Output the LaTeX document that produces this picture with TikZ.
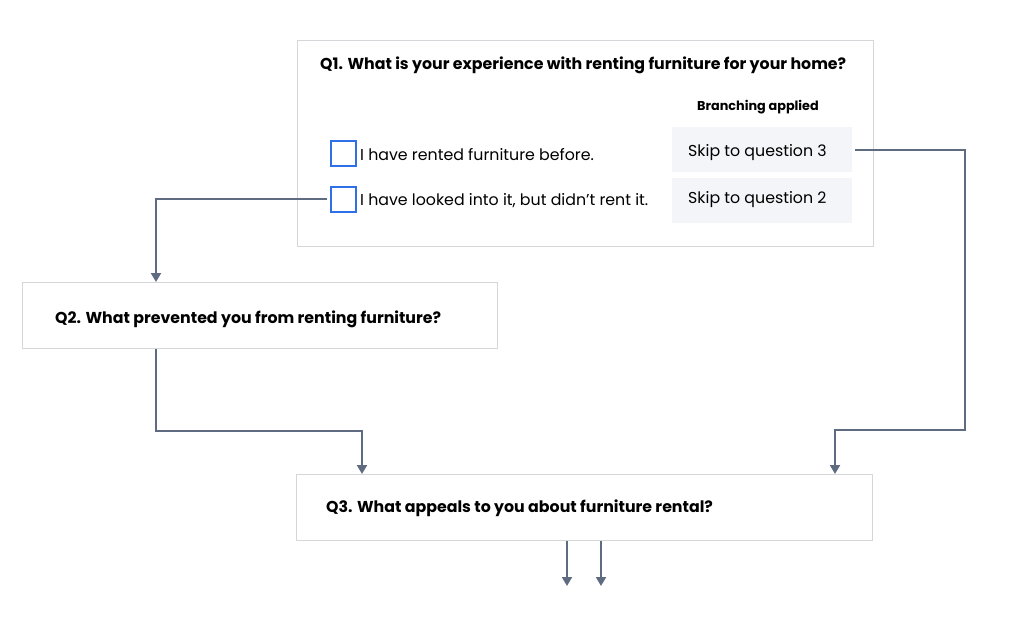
\documentclass[tikz,border=0pt]{standalone}
\usepackage{fontspec}
\setmainfont{Poppins}
\usetikzlibrary{arrows.meta}
\definecolor{linkgray}{HTML}{5F6B80}
\definecolor{boxline}{HTML}{D4D6DA}
\definecolor{checkblue}{HTML}{2F6FE8}
\definecolor{skipfill}{HTML}{F4F5F9}
\begin{document}
\begin{tikzpicture}[x=1pt,y=-1pt,
    qbox/.style={draw=boxline,line width=1pt,anchor=north west,inner sep=0pt},
    skipbox/.style={fill=skipfill,anchor=north west,inner sep=0pt,minimum width=180pt,minimum height=45pt},
    checkbox/.style={draw=checkblue,line width=1.6pt,anchor=north west,inner sep=0pt,minimum size=25pt},
    qtitle/.style={anchor=base west,inner sep=0pt,font=\fontsize{15.8}{18}\selectfont\bfseries},
    answer/.style={anchor=base west,inner sep=0pt,font=\fontsize{15.8}{18}\selectfont},
    link/.style={draw=linkgray,line width=2pt,-{Triangle[width=10pt,length=9pt]}}]
  \useasboundingbox (0,0) rectangle (1024,621);
  % question boxes
  \node [qbox,minimum width=576pt,minimum height=206pt] (q1) at (297,40) {};
  \node [qbox,minimum width=475pt,minimum height=66pt] (q2) at (22,282) {};
  \node [qbox,minimum width=576pt,minimum height=66pt] (q3) at (296,474) {};
  % question 1 contents
  \node [qtitle] (q1title) at (320,69) {Q1. What is your experience with renting furniture for your home?};
  \node [anchor=base west,inner sep=0pt,font=\fontsize{12.8}{15}\selectfont\bfseries] (branch) at (697,110) {Branching applied};
  \node [checkbox] (cb1) at (330,140) {};
  \node [checkbox] (cb2) at (330,186) {};
  \node [answer] (a1) at (360,160) {I have rented furniture before.};
  \node [answer] (a2) at (360,205) {I have looked into it, but didn't rent it.};
  \node [skipbox] (skip3) at (672,127) {};
  \node [skipbox] (skip2) at (672,178) {};
  \node [answer] at (688,156) {Skip to question 3};
  \node [answer] at (688,203) {Skip to question 2};
  % other questions
  \node [qtitle] (q2title) at (55,323) {Q2. What prevented you from renting furniture?};
  \node [qtitle] (q3title) at (326,512) {Q3. What appeals to you about furniture rental?};
  % connectors
  \coordinate (r1) at (965,430);
  \coordinate (j2) at (362,431);
  \coordinate (out1) at (567,586);
  \coordinate (out2) at (601,586);
  \draw [link] ([xshift=3pt]skip3.east) -| (r1) -| ([xshift=-38pt]q3.north east);
  \draw [link] ([xshift=-3pt]cb2.west) -| ([xshift=134pt]q2.north west);
  \draw [link] ([xshift=134pt]q2.south west) |- (j2) -- (j2 |- q3.north);
  \draw [link] (out1 |- q3.south) -- (out1);
  \draw [link] (out2 |- q3.south) -- (out2);
\end{tikzpicture}
\end{document}
